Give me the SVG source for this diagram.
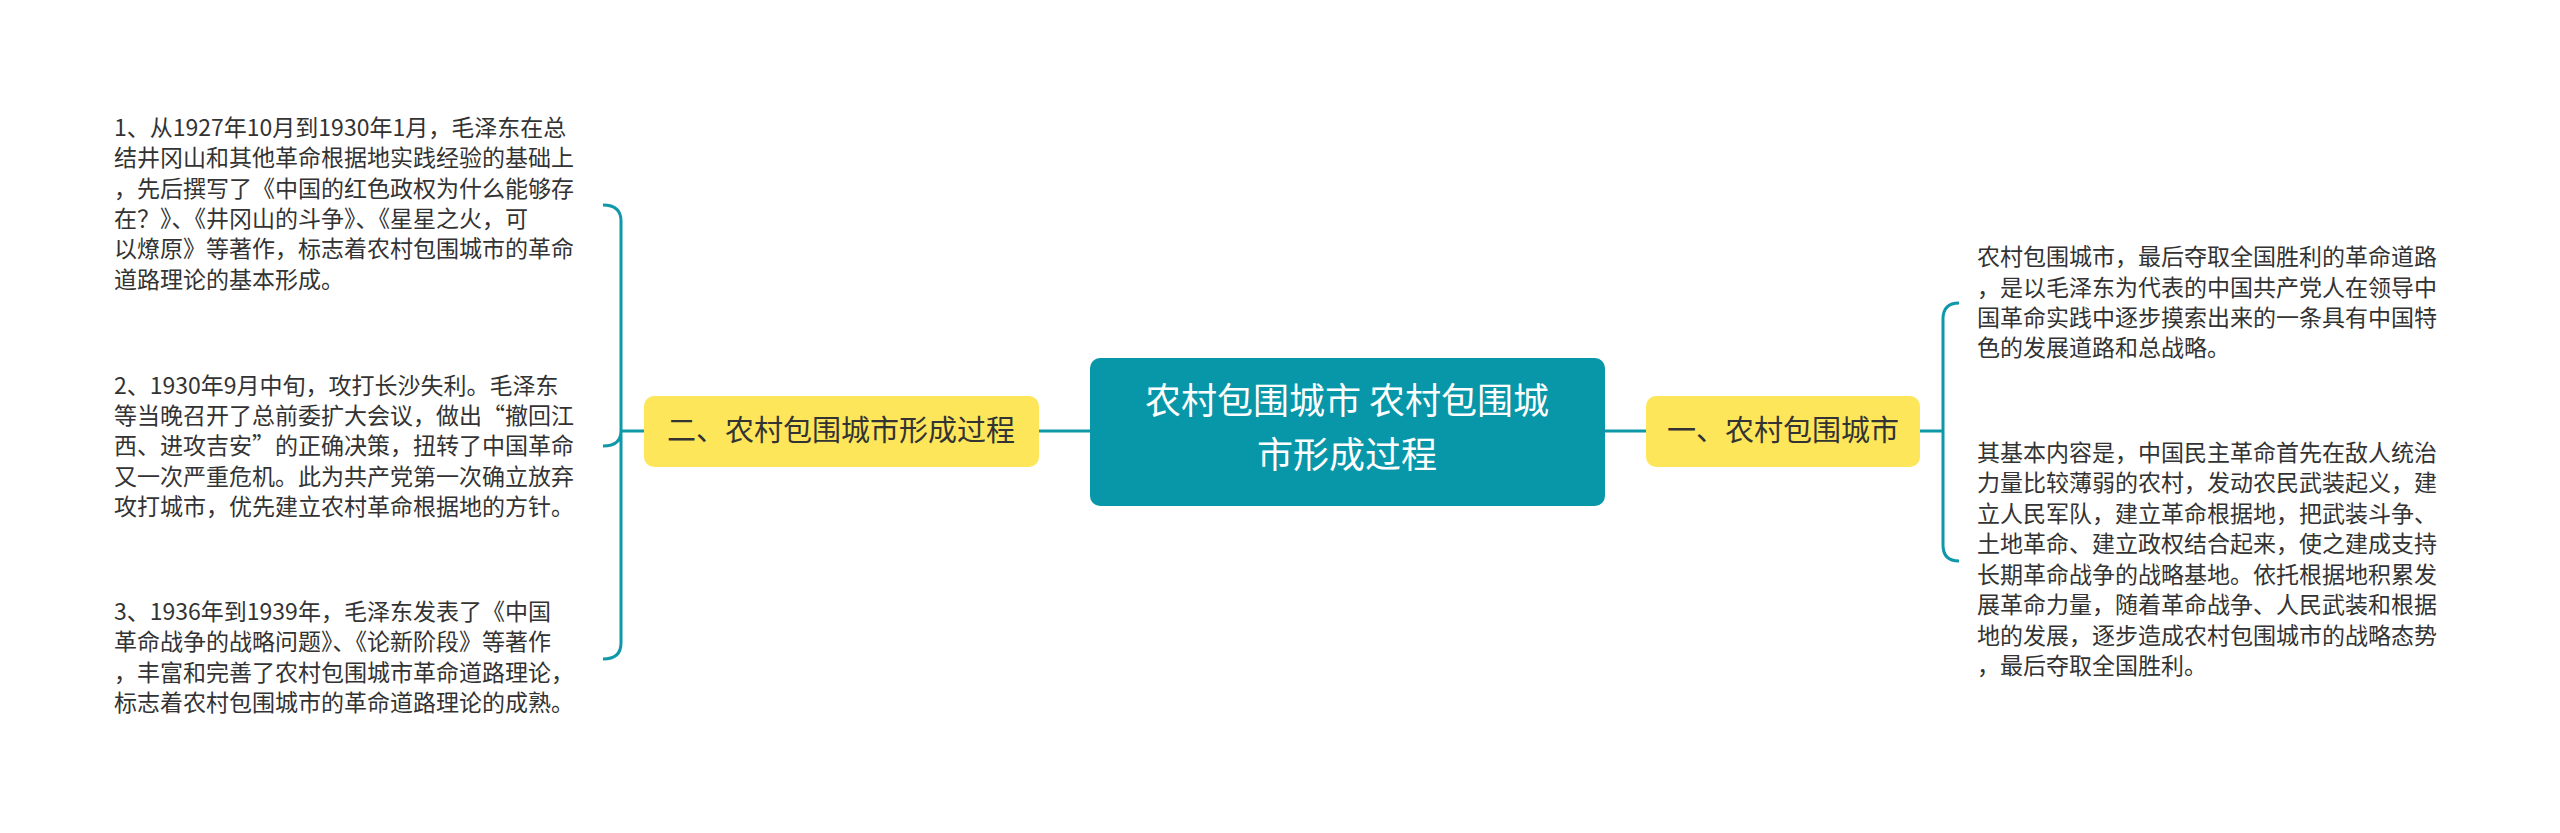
<svg xmlns="http://www.w3.org/2000/svg" width="2560" height="833" viewBox="0 0 2560 833">
<style>
.t{font-family:"Noto Sans CJK SC","Noto Sans",sans-serif;font-size:23px;fill:#333}
.y{fill:#fde65a}
.yt{font-family:"Noto Sans CJK SC","Noto Sans",sans-serif;font-size:29px;fill:#333}
.c{fill:none;stroke:#0e98a8;stroke-width:3}
</style>
<rect width="2560" height="833" fill="#fff"/>
<g id="connectors">
<path class="c" d="M1039 431 H1090 M1605 431 H1646 M1920 431 H1943"/>
<path class="c" d="M1959 303 Q1943 303 1943 319 V545 Q1943 561 1959 561"/>
<path class="c" d="M644 431 H621 M603 205 Q621 205 621 221 V643 Q621 659 603 659 M603 446 Q621 446 621 431"/>
</g>
<g id="center">
<rect x="1090" y="358" width="515" height="148" rx="10" fill="#0797a9"/>
<text x="1347" y="414" text-anchor="middle" font-family="Noto Sans CJK SC,sans-serif" font-size="36" fill="#fff">农村包围城市 农村包围城</text>
<text x="1347" y="468" text-anchor="middle" font-family="Noto Sans CJK SC,sans-serif" font-size="36" fill="#fff">市形成过程</text>
</g>
<g id="n1">
<rect class="y" x="1646" y="396" width="274" height="71" rx="10"/>
<text class="yt" x="1783" y="441" text-anchor="middle">一、农村包围城市</text>
</g>
<g id="n2">
<rect class="y" x="644" y="396" width="395" height="71" rx="10"/>
<text class="yt" x="841" y="441" text-anchor="middle">二、农村包围城市形成过程</text>
</g>
<g id="r1">
<text class="t" x="1977" y="265">农村包围城市，最后夺取全国胜利的革命道路</text>
<text class="t" x="1977" y="296">，是以毛泽东为代表的中国共产党人在领导中</text>
<text class="t" x="1977" y="326">国革命实践中逐步摸索出来的一条具有中国特</text>
<text class="t" x="1977" y="356">色的发展道路和总战略。</text>
</g>
<g id="r2">
<text class="t" x="1977" y="461">其基本内容是，中国民主革命首先在敌人统治</text>
<text class="t" x="1977" y="491">力量比较薄弱的农村，发动农民武装起义，建</text>
<text class="t" x="1977" y="522">立人民军队，建立革命根据地，把武装斗争、</text>
<text class="t" x="1977" y="552">土地革命、建立政权结合起来，使之建成支持</text>
<text class="t" x="1977" y="583">长期革命战争的战略基地。依托根据地积累发</text>
<text class="t" x="1977" y="613">展革命力量，随着革命战争、人民武装和根据</text>
<text class="t" x="1977" y="644">地的发展，逐步造成农村包围城市的战略态势</text>
<text class="t" x="1977" y="674">，最后夺取全国胜利。</text>
</g>
<g id="l1">
<text class="t" x="114" y="136">1、从1927年10月到1930年1月，毛泽东在总</text>
<text class="t" x="114" y="166">结井冈山和其他革命根据地实践经验的基础上</text>
<text class="t" x="114" y="197">，先后撰写了《中国的红色政权为什么能够存</text>
<text class="t" x="114" y="227">在？》、《井冈山的斗争》、《星星之火，可</text>
<text class="t" x="114" y="257">以燎原》等著作，标志着农村包围城市的革命</text>
<text class="t" x="114" y="288">道路理论的基本形成。</text>
</g>
<g id="l2">
<text class="t" x="114" y="394">2、1930年9月中旬，攻打长沙失利。毛泽东</text>
<text class="t" x="114" y="424">等当晚召开了总前委扩大会议，做出“撤回江</text>
<text class="t" x="114" y="454">西、进攻吉安”的正确决策，扭转了中国革命</text>
<text class="t" x="114" y="485">又一次严重危机。此为共产党第一次确立放弃</text>
<text class="t" x="114" y="515">攻打城市，优先建立农村革命根据地的方针。</text>
</g>
<g id="l3">
<text class="t" x="114" y="620">3、1936年到1939年，毛泽东发表了《中国</text>
<text class="t" x="114" y="650">革命战争的战略问题》、《论新阶段》等著作</text>
<text class="t" x="114" y="681">，丰富和完善了农村包围城市革命道路理论，</text>
<text class="t" x="114" y="711">标志着农村包围城市的革命道路理论的成熟。</text>
</g>
</svg>
